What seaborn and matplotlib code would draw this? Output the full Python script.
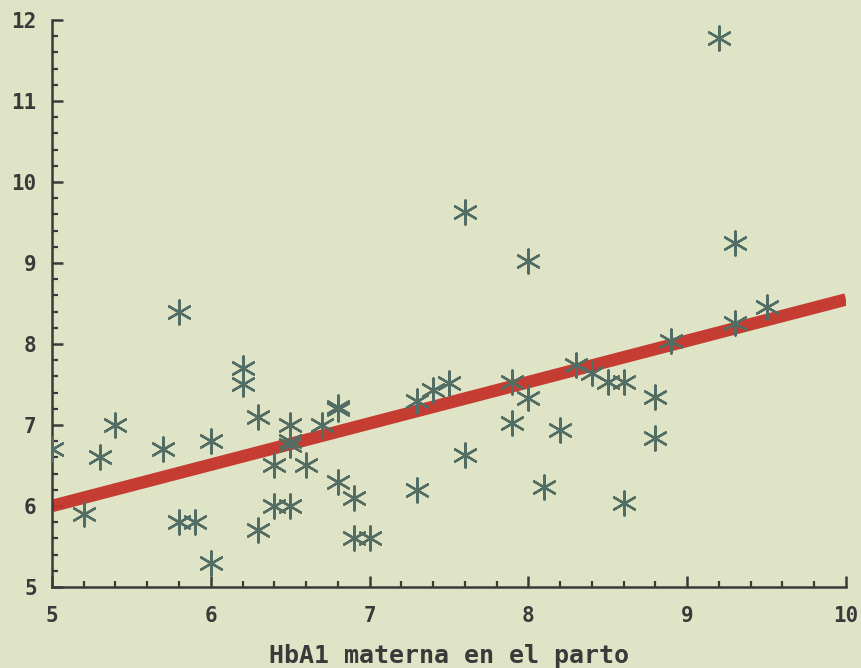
import matplotlib
matplotlib.use("Agg")
import pandas as pd
import seaborn as sns
import matplotlib.pyplot as plt
from matplotlib.ticker import MultipleLocator

# HbA1 materna (x) vs. valor del recien nacido (y)
hba1_materna = [5.0, 5.2, 5.3, 5.4, 5.7, 5.8, 5.8, 5.9, 6.0, 6.0,
                6.2, 6.2, 6.3, 6.3, 6.4, 6.4, 6.5, 6.5, 6.5, 6.5,
                6.6, 6.7, 6.8, 6.8, 6.8, 6.9, 6.9, 7.0, 7.3, 7.3,
                7.4, 7.5, 7.6, 7.6, 7.9, 7.9, 8.0, 8.0, 8.1, 8.2,
                8.3, 8.4, 8.5, 8.6, 8.6, 8.8, 8.8, 8.9, 9.2, 9.3,
                9.3, 9.5]
hba1_rn = [6.7, 5.9, 6.6, 7.0, 6.7, 8.4, 5.8, 5.8, 6.8, 5.3,
           7.7, 7.5, 7.1, 5.7, 6.5, 6.0, 7.0, 6.8, 6.75, 6.0,
           6.5, 7.0, 7.2, 7.22, 6.3, 6.1, 5.6, 5.6, 7.3, 6.2,
           7.43, 7.52, 9.63, 6.63, 7.53, 7.02, 9.03, 7.33, 6.23, 6.94,
           7.74, 7.64, 7.53, 7.53, 6.04, 7.35, 6.84, 8.04, 11.78, 9.25,
           8.26, 8.46]

# fitted line end points
recta_x = [5.0, 10.0]
recta_y = [6.0, 8.55]

df = pd.DataFrame({"x": hba1_materna, "y": hba1_rn})
linea = pd.DataFrame({"x": recta_x, "y": recta_y})

sns.set_theme(style="ticks")
plt.rcParams["font.family"] = ["DejaVu Sans Mono", "DejaVu Sans"]
plt.rcParams["font.weight"] = "bold"

fondo = "#e0e4c6"
tinta = "#3a3a3a"

fig = plt.figure(figsize=(8.62, 6.68), dpi=100, facecolor=fondo)
ax = fig.add_axes([0.0603, 0.1213, 0.9211, 0.8487])
ax.set_facecolor(fondo)

sns.lineplot(data=linea, x="x", y="y", ax=ax, color="#c4332b",
             linewidth=9, alpha=0.95, solid_capstyle="butt", zorder=2)
sns.scatterplot(data=df, x="x", y="y", ax=ax, marker=(6, 2, 0), s=300,
                color="#526d64", linewidth=1.7, zorder=3)

ax.set_xlim(5, 10)
ax.set_ylim(5, 12)
ax.xaxis.set_major_locator(MultipleLocator(1))
ax.xaxis.set_minor_locator(MultipleLocator(0.2))
ax.yaxis.set_major_locator(MultipleLocator(1))
ax.yaxis.set_minor_locator(MultipleLocator(0.2))

sns.despine(ax=ax)
for s in ["left", "bottom"]:
    ax.spines[s].set_color(tinta)
    ax.spines[s].set_linewidth(1.8)

ax.tick_params(which="major", direction="in", length=8, width=1.8,
               color=tinta, labelsize=15, labelcolor=tinta)
ax.tick_params(which="minor", direction="in", length=4.5, width=1.6, color=tinta)
ax.tick_params(axis="x", which="major", pad=14)
ax.tick_params(axis="y", which="major", pad=11)

ax.set_xlabel("HbA1 materna en el parto", fontsize=18, color=tinta,
              fontweight="bold", labelpad=13)
ax.set_ylabel("")

fig.savefig("out.png", dpi=100, facecolor=fondo)
